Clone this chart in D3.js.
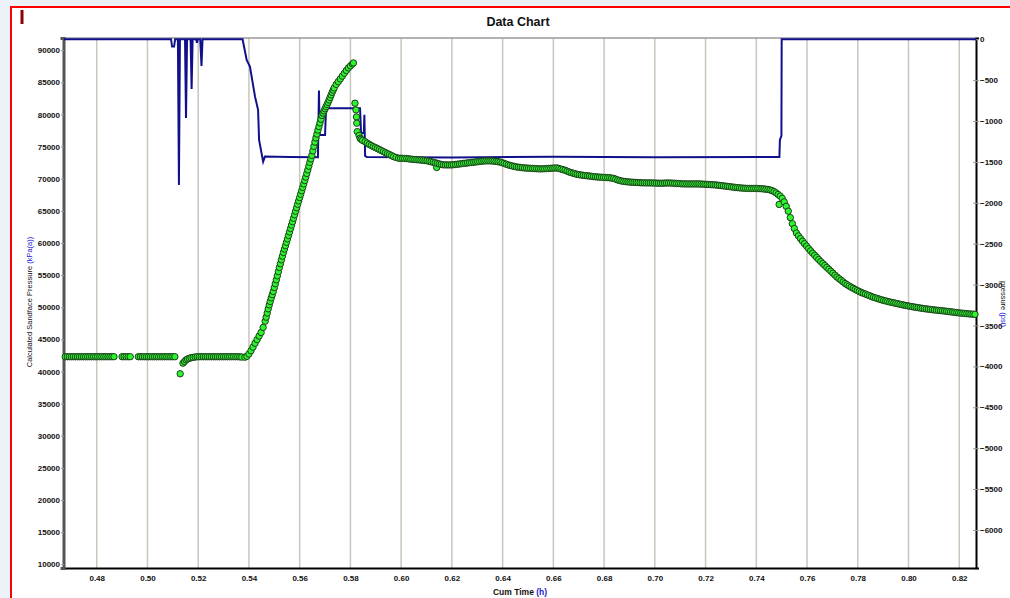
<!DOCTYPE html>
<html>
<head>
<meta charset="utf-8">
<script src="https://cdn.jsdelivr.net/npm/d3@7"></script>
<style>
  html, body { margin: 0; padding: 0; background: #edf1f8; }
  svg { display: block; font-family: Arial, "Liberation Sans", sans-serif; }
</style>
</head>
<body>
<svg id="chart" width="1010" height="598"></svg>
<script>
// calculated sandface pressure (kPa(a)) as [cum time (h), value]
const preJob = [
  [0.4676, 42300], [0.4684, 42300], [0.4692, 42300], [0.4700, 42300], [0.4708, 42300],
  [0.4716, 42300], [0.4724, 42300], [0.4732, 42300], [0.4740, 42300], [0.4748, 42300],
  [0.4756, 42300], [0.4764, 42300], [0.4772, 42300], [0.4780, 42300], [0.4788, 42300],
  [0.4796, 42300], [0.4804, 42300], [0.4812, 42300], [0.4820, 42300], [0.4828, 42300],
  [0.4836, 42300], [0.4844, 42300], [0.4852, 42300], [0.4860, 42300], [0.4868, 42300],
  [0.4900, 42300], [0.4908, 42300], [0.4916, 42300], [0.4924, 42300], [0.4932, 42300],
  [0.4964, 42300], [0.4972, 42300], [0.4980, 42300], [0.4988, 42300], [0.4996, 42300],
  [0.5004, 42300], [0.5012, 42300], [0.5020, 42300], [0.5028, 42300], [0.5036, 42300],
  [0.5044, 42300], [0.5052, 42300], [0.5060, 42300], [0.5068, 42300], [0.5076, 42300],
  [0.5084, 42300], [0.5092, 42300], [0.5100, 42300], [0.5108, 42300], [0.5129, 39650],
  [0.5140, 41300], [0.5146, 41550], [0.5152, 41800], [0.5158, 41950], [0.5165, 42050],
  [0.5172, 42150], [0.5180, 42200], [0.5188, 42250], [0.5196, 42300], [0.5204, 42300],
  [0.5212, 42300], [0.5220, 42300], [0.5228, 42300], [0.5236, 42300], [0.5244, 42300],
  [0.5252, 42300], [0.5260, 42300], [0.5268, 42300], [0.5276, 42300], [0.5284, 42300],
  [0.5292, 42300], [0.5300, 42300], [0.5308, 42300], [0.5316, 42300], [0.5324, 42300],
  [0.5332, 42300], [0.5340, 42300], [0.5348, 42300], [0.5356, 42300], [0.5364, 42280],
  [0.5372, 42250]
];

const injection = [
  [0.5384, 42230], [0.5392, 42370], [0.5400, 42730], [0.5408, 43230], [0.5416, 43790],
  [0.5424, 44400], [0.5432, 44960], [0.5440, 45520], [0.5448, 46070], [0.5456, 46860],
  [0.5464, 47820], [0.5468, 48450], [0.5472, 49100], [0.5476, 49750], [0.5480, 50360],
  [0.5484, 50900], [0.5488, 51450], [0.5492, 51950], [0.5496, 52460], [0.5500, 53050],
  [0.5504, 53660], [0.5508, 54270], [0.5512, 54890], [0.5516, 55540], [0.5520, 56190],
  [0.5524, 56780], [0.5528, 57380], [0.5532, 57950], [0.5536, 58530], [0.5540, 59050],
  [0.5544, 59570], [0.5548, 60100], [0.5552, 60630], [0.5556, 61170], [0.5560, 61720],
  [0.5564, 62250], [0.5568, 62780], [0.5572, 63310], [0.5576, 63840], [0.5580, 64390],
  [0.5584, 64940], [0.5588, 65480], [0.5592, 66020], [0.5596, 66540], [0.5600, 67060],
  [0.5604, 67590], [0.5608, 68120], [0.5612, 68650], [0.5616, 69190], [0.5620, 69720],
  [0.5624, 70250], [0.5628, 70810], [0.5632, 71370], [0.5636, 71950], [0.5640, 72540],
  [0.5644, 73080], [0.5648, 73630], [0.5652, 74330], [0.5656, 75040], [0.5660, 75700],
  [0.5664, 76350], [0.5668, 76950], [0.5672, 77560], [0.5676, 78120], [0.5680, 78680],
  [0.5684, 79260], [0.5688, 79850], [0.5692, 80200], [0.5696, 80550], [0.5700, 80880],
  [0.5704, 81210], [0.5708, 81540], [0.5712, 81880], [0.5716, 82260], [0.5720, 82650],
  [0.5724, 83040], [0.5728, 83430], [0.5732, 83780], [0.5736, 84130], [0.5744, 84680],
  [0.5752, 85110], [0.5760, 85530], [0.5768, 85970], [0.5776, 86420], [0.5784, 86840],
  [0.5792, 87250], [0.5800, 87560], [0.5808, 87870], [0.5812, 88020]
];

const falloffEarly = [
  [0.5818, 81750], [0.5822, 80710], [0.5824, 79620], [0.5825, 78640], [0.5827, 77330],
  [0.5834, 76740], [0.5838, 76300], [0.5842, 76130], [0.5848, 75960], [0.5858, 75770],
  [0.5866, 75550], [0.5874, 75340], [0.5882, 75170], [0.5890, 75000], [0.5898, 74850],
  [0.5906, 74700], [0.5914, 74540], [0.5922, 74380], [0.5930, 74220], [0.5938, 74060],
  [0.5946, 73910], [0.5954, 73760], [0.5962, 73600], [0.5970, 73440], [0.5980, 73310]
];

const plateau = [
  [0.5990, 73190], [0.5998, 73180], [0.6006, 73170], [0.6014, 73155], [0.6022, 73140],
  [0.6030, 73095], [0.6038, 73050], [0.6046, 73015], [0.6054, 72980], [0.6062, 72960],
  [0.6070, 72940], [0.6078, 72905], [0.6086, 72870], [0.6094, 72830], [0.6102, 72790],
  [0.6110, 72720], [0.6118, 72650], [0.6126, 72565], [0.6134, 72480], [0.6140, 71750],
  [0.6142, 72390], [0.6150, 72300], [0.6158, 72230], [0.6166, 72160], [0.6174, 72155],
  [0.6182, 72150], [0.6190, 72150], [0.6198, 72150], [0.6206, 72185], [0.6214, 72220],
  [0.6222, 72260], [0.6230, 72300], [0.6238, 72340], [0.6246, 72380], [0.6254, 72420],
  [0.6262, 72460], [0.6270, 72495], [0.6278, 72530], [0.6286, 72570], [0.6294, 72610],
  [0.6302, 72650], [0.6310, 72690], [0.6318, 72730], [0.6326, 72770], [0.6334, 72775],
  [0.6342, 72780], [0.6350, 72775], [0.6358, 72770], [0.6366, 72735], [0.6374, 72700],
  [0.6382, 72650], [0.6390, 72600], [0.6398, 72490], [0.6406, 72380], [0.6414, 72265],
  [0.6422, 72150], [0.6430, 72070], [0.6438, 71990], [0.6446, 71915], [0.6454, 71840],
  [0.6462, 71800], [0.6470, 71760], [0.6478, 71720], [0.6486, 71680], [0.6494, 71660],
  [0.6502, 71640], [0.6510, 71620], [0.6518, 71600], [0.6526, 71580], [0.6534, 71560],
  [0.6542, 71545], [0.6550, 71530], [0.6558, 71545], [0.6566, 71560], [0.6574, 71580],
  [0.6582, 71600], [0.6590, 71625], [0.6598, 71650], [0.6606, 71665], [0.6614, 71680],
  [0.6622, 71590], [0.6630, 71500], [0.6638, 71410], [0.6646, 71320], [0.6654, 71185],
  [0.6662, 71050], [0.6670, 70955], [0.6678, 70860], [0.6686, 70770], [0.6694, 70680],
  [0.6702, 70625], [0.6710, 70570], [0.6718, 70530], [0.6726, 70490], [0.6734, 70455],
  [0.6742, 70420], [0.6750, 70375], [0.6758, 70330], [0.6766, 70300], [0.6774, 70270],
  [0.6782, 70250], [0.6790, 70230], [0.6798, 70210], [0.6806, 70190], [0.6814, 70170],
  [0.6822, 70150], [0.6830, 70100], [0.6838, 70050], [0.6846, 69925], [0.6854, 69800],
  [0.6862, 69715], [0.6870, 69630], [0.6878, 69585], [0.6886, 69540], [0.6894, 69510],
  [0.6902, 69480], [0.6910, 69460], [0.6918, 69440], [0.6926, 69420], [0.6934, 69400],
  [0.6942, 69380], [0.6950, 69360], [0.6958, 69355], [0.6966, 69350], [0.6974, 69350],
  [0.6982, 69350], [0.6990, 69340], [0.6998, 69330], [0.7006, 69315], [0.7014, 69300],
  [0.7022, 69300], [0.7030, 69300], [0.7038, 69320], [0.7046, 69340], [0.7054, 69335],
  [0.7062, 69330], [0.7070, 69310], [0.7078, 69290], [0.7086, 69270], [0.7094, 69250],
  [0.7102, 69225], [0.7110, 69200], [0.7118, 69195], [0.7126, 69190], [0.7134, 69190],
  [0.7142, 69190], [0.7150, 69190], [0.7158, 69190], [0.7166, 69190], [0.7174, 69190],
  [0.7182, 69175], [0.7190, 69160], [0.7198, 69140], [0.7206, 69120], [0.7214, 69100],
  [0.7222, 69080], [0.7230, 69060], [0.7238, 69040], [0.7246, 69005], [0.7254, 68970],
  [0.7262, 68930], [0.7270, 68890], [0.7278, 68850], [0.7286, 68810], [0.7294, 68770],
  [0.7302, 68730], [0.7310, 68690], [0.7318, 68650], [0.7326, 68615], [0.7334, 68580],
  [0.7342, 68555], [0.7350, 68530], [0.7358, 68510], [0.7366, 68490], [0.7374, 68490],
  [0.7382, 68490], [0.7390, 68490], [0.7398, 68490], [0.7406, 68475], [0.7414, 68460],
  [0.7422, 68435], [0.7430, 68410], [0.7438, 68370], [0.7446, 68330], [0.7454, 68250],
  [0.7462, 68150], [0.7470, 68000], [0.7478, 67800], [0.7486, 67550], [0.7490, 66000],
  [0.7494, 67300]
];

const falloff = [
  [0.7502, 66950], [0.7510, 66400], [0.7518, 65700], [0.7526, 64950], [0.7534, 63950],
  [0.7542, 63000], [0.7550, 62250], [0.7558, 61560], [0.7566, 61100], [0.7574, 60680],
  [0.7582, 60280], [0.7590, 59900], [0.7598, 59520], [0.7606, 59140], [0.7614, 58780],
  [0.7622, 58420], [0.7630, 58090], [0.7638, 57760], [0.7646, 57430], [0.7654, 57100],
  [0.7662, 56800], [0.7670, 56500], [0.7678, 56200], [0.7686, 55900], [0.7694, 55600],
  [0.7702, 55300], [0.7710, 55000], [0.7718, 54700], [0.7726, 54450], [0.7734, 54200],
  [0.7742, 53950], [0.7750, 53700], [0.7758, 53500], [0.7766, 53300], [0.7774, 53120],
  [0.7782, 52950], [0.7790, 52770], [0.7798, 52600], [0.7806, 52450], [0.7814, 52300],
  [0.7822, 52170], [0.7830, 52050], [0.7838, 51920], [0.7846, 51800], [0.7854, 51670],
  [0.7862, 51550], [0.7870, 51450], [0.7878, 51350], [0.7886, 51250], [0.7894, 51150],
  [0.7902, 51060], [0.7910, 50980], [0.7918, 50900], [0.7926, 50820], [0.7934, 50750],
  [0.7942, 50680], [0.7950, 50610], [0.7958, 50540], [0.7966, 50470], [0.7974, 50400],
  [0.7982, 50330], [0.7990, 50270], [0.7998, 50210], [0.8006, 50150], [0.8014, 50090],
  [0.8022, 50040], [0.8030, 49980], [0.8038, 49930], [0.8046, 49880], [0.8054, 49830],
  [0.8062, 49780], [0.8070, 49740], [0.8078, 49700], [0.8086, 49660], [0.8094, 49620],
  [0.8102, 49580], [0.8110, 49545], [0.8118, 49510], [0.8126, 49480], [0.8134, 49450],
  [0.8142, 49410], [0.8150, 49370], [0.8158, 49330], [0.8166, 49290], [0.8174, 49250],
  [0.8182, 49210], [0.8190, 49170], [0.8198, 49130], [0.8206, 49090], [0.8214, 49060],
  [0.8222, 49030], [0.8230, 49000], [0.8238, 48970], [0.8246, 48940], [0.8254, 48920],
  [0.8262, 48900]
];

// second series on the right axis (psi) as [cum time (h), value]
const pressurePsi = [
  [0.4671, 0], [0.5093, 0], [0.5097, -90], [0.5105, -90], [0.5109, 0],
  [0.5120, 0], [0.5124, -1781], [0.5128, 0], [0.5148, 0], [0.5152, -962],
  [0.5156, 0], [0.5170, 0], [0.5174, -608], [0.5178, 0], [0.5192, 0],
  [0.5195, -45], [0.5198, 0], [0.5208, 0], [0.5213, -326], [0.5217, 0],
  [0.5375, 0], [0.5391, -253], [0.5404, -335], [0.5424, -702], [0.5436, -864],
  [0.5440, -1231], [0.5456, -1496], [0.5463, -1435], [0.5560, -1440], [0.5672, -1443],
  [0.5676, -628], [0.5679, -1170], [0.5700, -1170], [0.5704, -843], [0.5838, -843],
  [0.5842, -1145], [0.5853, -1145], [0.5855, -925], [0.5858, -1427], [0.5865, -1440],
  [0.6200, -1445], [0.6600, -1438], [0.7000, -1442], [0.7491, -1440], [0.7493, -1231],
  [0.7499, -1180], [0.7500, 0], [0.8266, 0]
];

const xTicks = [0.48, 0.50, 0.52, 0.54, 0.56, 0.58, 0.60, 0.62, 0.64, 0.66, 0.68, 0.70, 0.72, 0.74, 0.76, 0.78, 0.80, 0.82];
const leftTicks = [10000, 15000, 20000, 25000, 30000, 35000, 40000, 45000, 50000, 55000, 60000, 65000, 70000, 75000, 80000, 85000, 90000];
const rightTicks = [0, -500, -1000, -1500, -2000, -2500, -3000, -3500, -4000, -4500, -5000, -5500, -6000];

const width = 1010;
const height = 598;
const margin = { top: 38, right: 34, bottom: 30, left: 64 };

const svg = d3.select("#chart");

// white sheet inside the red frame
svg.append("rect")
  .attr("x", 11).attr("y", 7)
  .attr("width", width).attr("height", height)
  .attr("fill", "#fff")
  .attr("stroke", "#f00")
  .attr("stroke-width", 2);

svg.append("rect")
  .attr("x", 20.5).attr("y", 10)
  .attr("width", 3).attr("height", 14)
  .attr("fill", "#8b0000");

const x = d3.scaleLinear()
  .domain([0.4671, 0.8266])
  .range([margin.left, width - margin.right]);

const yLeft = d3.scaleLinear()
  .domain([9420, 91900])
  .range([height - margin.bottom, margin.top]);

const yRight = d3.scaleLinear()
  .domain([-6465, 15])
  .range([height - margin.bottom, margin.top]);

// vertical grid
svg.append("g")
  .selectAll("line")
  .data(xTicks)
  .join("line")
  .attr("x1", d => x(d)).attr("x2", d => x(d))
  .attr("y1", margin.top).attr("y2", height - margin.bottom)
  .attr("stroke", "#c9c6bc")
  .attr("stroke-width", 1.5);

// top border
svg.append("line")
  .attr("x1", margin.left).attr("x2", width - margin.right)
  .attr("y1", margin.top).attr("y2", margin.top)
  .attr("stroke", "#999").attr("stroke-width", 1.5);

const xAxis = g => g
  .attr("transform", `translate(0,${height - margin.bottom})`)
  .call(d3.axisBottom(x).tickValues(xTicks).tickFormat(d3.format(".2f")).tickSize(0).tickPadding(7))
  .call(g => g.select(".domain").attr("stroke", "#000").attr("stroke-width", 2));

const yAxisLeft = g => g
  .attr("transform", `translate(${margin.left},0)`)
  .call(d3.axisLeft(yLeft).tickValues(leftTicks).tickFormat(d3.format("d")).tickSize(3).tickPadding(1))
  .call(g => g.select(".domain").attr("stroke", "#555").attr("stroke-width", 3).attr("transform", "translate(-0.5,0)"))
  .call(g => g.selectAll(".tick line").attr("stroke", "#999"));

const yAxisRight = g => g
  .attr("transform", `translate(${width - margin.right},0)`)
  .call(d3.axisRight(yRight).tickValues(rightTicks).tickFormat(d3.format("d")).tickSize(3).tickPadding(1))
  .call(g => g.select(".domain").attr("stroke", "#000").attr("stroke-width", 2))
  .call(g => g.selectAll(".tick line").attr("stroke", "#999").attr("x1", -3));

[xAxis, yAxisLeft, yAxisRight].forEach(axis => {
  svg.append("g")
    .call(axis)
    .call(g => g.selectAll(".tick text")
      .attr("fill", "#111")
      .style("font-size", "8px")
      .style("font-weight", "bold")
      .style("font-family", "Arial, 'Liberation Sans', sans-serif"));
});

// right series line
const line = d3.line()
  .x(d => x(d[0]))
  .y(d => yRight(d[1]));

svg.append("path")
  .datum(pressurePsi)
  .attr("fill", "none")
  .attr("stroke", "#10108c")
  .attr("stroke-width", 2)
  .attr("d", line);

// sandface pressure markers
const points = [...preJob, ...injection, ...falloffEarly, ...plateau, ...falloff];

svg.append("g")
  .selectAll("circle")
  .data(points)
  .join("circle")
  .attr("cx", d => x(d[0]))
  .attr("cy", d => yLeft(d[1]))
  .attr("r", 3.2)
  .attr("fill", "#2cf52c")
  .attr("stroke", "#1d3d1d")
  .attr("stroke-width", 1);

// titles
svg.append("text")
  .attr("x", 518).attr("y", 26)
  .attr("text-anchor", "middle")
  .style("font-size", "12.5px")
  .style("font-weight", "bold")
  .attr("fill", "#111")
  .text("Data Chart");

const xTitle = svg.append("text")
  .attr("x", 520).attr("y", 595)
  .attr("text-anchor", "middle")
  .style("font-size", "8.5px")
  .style("font-weight", "bold")
  .attr("fill", "#111");
xTitle.append("tspan").text("Cum Time ");
xTitle.append("tspan").attr("fill", "#1c1ccc").text("(h)");

const yTitle = svg.append("text")
  .attr("transform", "translate(32,302) rotate(-90)")
  .attr("text-anchor", "middle")
  .style("font-size", "7.5px")
  .attr("fill", "#111");
yTitle.append("tspan").text("Calculated Sandface Pressure ");
yTitle.append("tspan").attr("fill", "#1c1ccc").text("(kPa(a))");

const y2Title = svg.append("text")
  .attr("transform", "translate(1001,304) rotate(90)")
  .attr("text-anchor", "middle")
  .style("font-size", "7.5px")
  .attr("fill", "#111");
y2Title.append("tspan").text("pressure ");
y2Title.append("tspan").attr("fill", "#1c1ccc").text("(psi)");
</script>
</body>
</html>
